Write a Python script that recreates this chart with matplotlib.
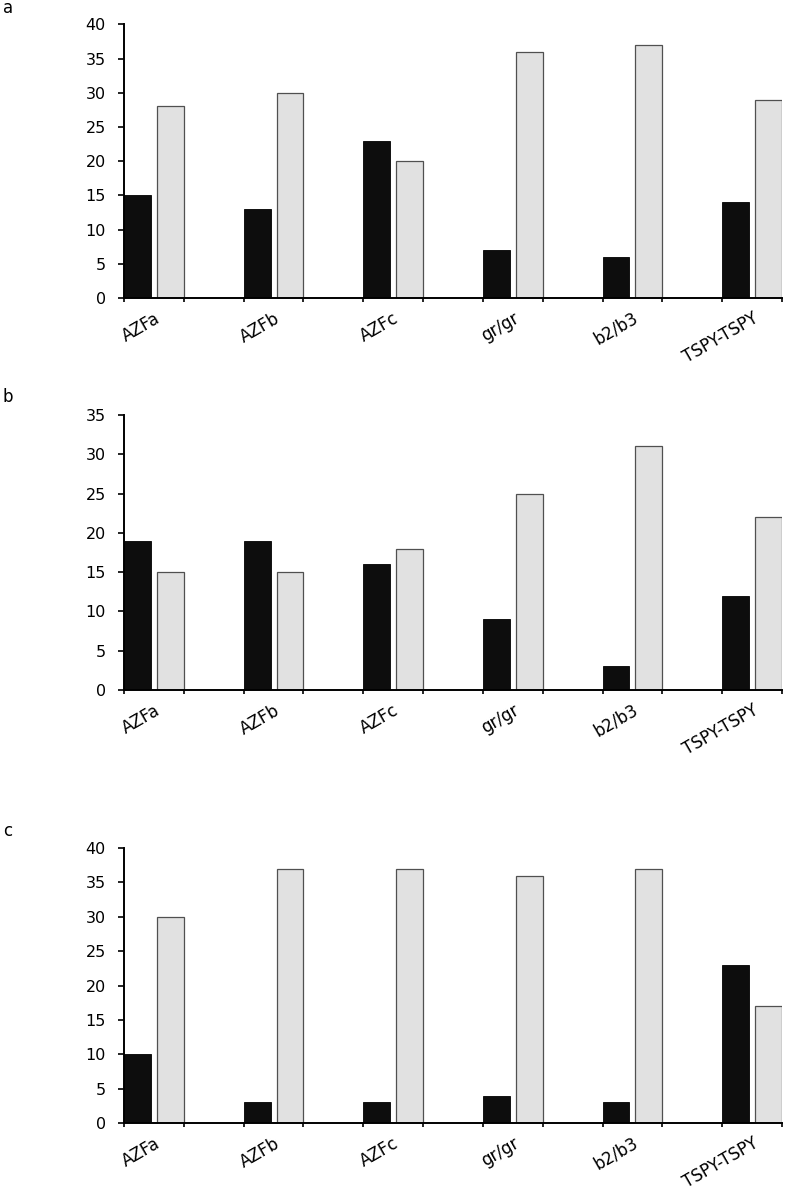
import matplotlib
matplotlib.use("Agg")
import matplotlib.pyplot as plt
import numpy as np

plt.rcParams['font.family'] = ['DejaVu Sans']

categories = ["AZFa", "AZFb", "AZFc", "gr/gr", "b2/b3", "TSPY-TSPY"]
panel_letters = ["a", "b", "c"]

a_black = [15, 13, 23, 7, 6, 14]
a_gray = [28, 30, 20, 36, 37, 29]
b_black = [19, 19, 16, 9, 3, 12]
b_gray = [15, 15, 18, 25, 31, 22]
c_black = [10, 3, 3, 4, 3, 23]
c_gray = [30, 37, 37, 36, 37, 17]

ymax = [40, 35, 40]

W, H = 787, 1193
fig = plt.figure(figsize=(W / 100, H / 100), dpi=100)

# axes boxes in pixels: (top, bottom)
boxes = [(24.3, 298), (415, 690), (848, 1123)]
left_px, right_px = 124, 782
letter_y = [8, 397, 831]

data = [(a_black, a_gray), (b_black, b_gray), (c_black, c_gray)]

for k, ((top, bot), (blk, gry)) in enumerate(zip(boxes, data)):
    ax = fig.add_axes([left_px / W, 1 - bot / H, (right_px - left_px) / W, (bot - top) / H])
    n = len(categories)
    x0 = np.arange(n) * 2.0
    ax.bar(x0 + 0.225, blk, width=0.45, color="#0d0d0d", edgecolor="#000000", linewidth=0.6, zorder=2)
    ax.bar(x0 + 0.775, gry, width=0.45, color="#e1e1e1", edgecolor="#505050", linewidth=0.9, zorder=2)
    ax.set_xlim(0, 2 * n - 1)
    ax.set_ylim(0, ymax[k])
    ax.set_yticks(np.arange(0, ymax[k] + 1, 5))
    ax.set_xticks(np.arange(0, 2 * n))
    ax.set_xticklabels([])
    ax.set_xticks(x0 + 0.5, categories, minor=True)
    for lab in ax.get_xticklabels(minor=True):
        lab.set_rotation(30)
        lab.set_ha("right")
        lab.set_va("top")
        lab.set_rotation_mode("anchor")
    ax.tick_params(axis="x", which="major", direction="out", length=3, width=1.2, color="black")
    ax.tick_params(axis="x", which="minor", length=0, pad=8, labelsize=12)
    ax.tick_params(axis="y", direction="out", length=4, width=1.2, pad=9, labelsize=11.5)
    for s in ["top", "right"]:
        ax.spines[s].set_visible(False)
    for s in ["left", "bottom"]:
        ax.spines[s].set_linewidth(1.4)
        ax.spines[s].set_color("black")
    fig.text(3 / W, 1 - letter_y[k] / H, panel_letters[k], fontsize=12, ha="left", va="center")

fig.savefig("out.png", dpi=100)
